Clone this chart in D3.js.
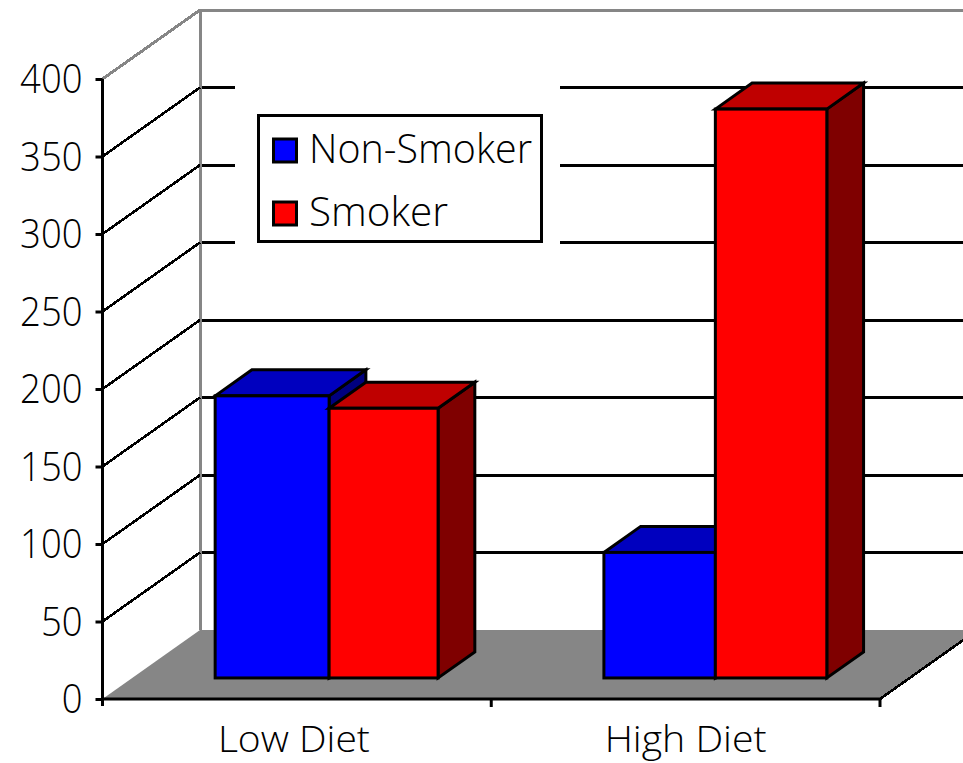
<!DOCTYPE html>
<html>
<head>
<meta charset="utf-8">
<script src="https://cdn.jsdelivr.net/npm/d3@7"></script>
<style>
  html, body { margin: 0; padding: 0; background: #fff; overflow: hidden; }
  svg { display: block; }
  text { font-family: "Open Sans", "Liberation Sans", Arial, sans-serif; font-weight: 300; fill: #000; }
</style>
</head>
<body>
<svg id="chart" width="963" height="763"></svg>
<script>
// Chart data
const categories = ["Low Diet", "High Diet"];
const seriesNames = ["Non-Smoker", "Smoker"];
const nonSmoker = [182, 81];
const smoker = [174, 367];
const yTicks = [0, 50, 100, 150, 200, 250, 300, 350, 400];

// Palette: front, top and side faces of each series
const faces = {
  "Non-Smoker": { front: "#0000ff", top: "#0000bf", side: "#00007f" },
  "Smoker": { front: "#ff0000", top: "#bf0000", side: "#7f0000" }
};
const wallGray = "#868686";
const floorGray = "#868686";

const width = 963, height = 763;
const svg = d3.select("#chart");

// Front plane of the box
const left = 102.5, right = 880, base = 699, topY = 79;
// Offset from the front plane to the back wall
const depthX = 97.5, depthY = 69;
// Bars stand part-way into the box and have their own depth
const barInset = 0.305, barDepth = 0.377;

const y = d3.scaleLinear().domain([0, 400]).range([base, topY]);
const x = d3.scaleBand().domain(categories).range([left, right]).padding(0);
const inner = d3.scaleBand().domain(seriesNames).range([0, x.bandwidth()]).paddingOuter(0.744).paddingInner(0);

const backX = left + depthX;
const backY = v => y(v) - depthY;

// Floor
svg.append("polygon")
  .attr("points", [[left, base], [backX, base - depthY], [right + depthX, base - depthY], [right, base]].join(" "))
  .attr("fill", floorGray);

// Back wall outline
svg.append("path")
  .attr("d", d3.line()([[left, y(400)], [backX, backY(400)], [right + depthX, backY(400)]]))
  .attr("fill", "none").attr("stroke", wallGray).attr("stroke-width", 3)
  .attr("shape-rendering", "crispEdges");
svg.append("line")
  .attr("x1", backX).attr("x2", backX).attr("y1", backY(400)).attr("y2", backY(0))
  .attr("stroke", wallGray).attr("stroke-width", 3).attr("shape-rendering", "crispEdges");

// Gridlines across the wall and along the side
const gridValues = yTicks.filter(v => v > 0 && v < 400);
svg.append("g").selectAll("line.back").data(gridValues).join("line")
  .attr("x1", backX + 1.5).attr("x2", width)
  .attr("y1", backY).attr("y2", backY)
  .attr("stroke", "#000").attr("stroke-width", 3).attr("shape-rendering", "crispEdges");
svg.append("g").selectAll("line.side").data(gridValues).join("line")
  .attr("x1", left).attr("x2", backX)
  .attr("y1", y).attr("y2", backY)
  .attr("stroke", "#000").attr("stroke-width", 2.6).attr("shape-rendering", "crispEdges");

// Right edge of the floor
svg.append("line")
  .attr("x1", right).attr("x2", right + depthX)
  .attr("y1", base).attr("y2", base - depthY)
  .attr("stroke", "#000").attr("stroke-width", 2.6).attr("shape-rendering", "crispEdges");

// The legend panel clears the wall behind it
svg.append("rect")
  .attr("x", 235).attr("y", 60).attr("width", 325).attr("height", 195).attr("fill", "#fff");

// Bars
const bars = categories.flatMap((c, i) => [
  { category: c, series: seriesNames[0], value: nonSmoker[i] },
  { category: c, series: seriesNames[1], value: smoker[i] }
]);
const barBaseY = base - depthY * barInset;
const barOffsetX = depthX * barInset;
const dx = depthX * barDepth, dy = depthY * barDepth;
// Divider between the two bars of a cluster
const splitShift = d3.scaleOrdinal(categories, [2.5, 0]);

const barG = svg.append("g").selectAll("g").data(bars).join("g")
  .attr("stroke", "#000").attr("stroke-width", 3).attr("stroke-linejoin", "miter");

function barBox(d) {
  const isFirst = d.series === seriesNames[0];
  const start = x(d.category) + barOffsetX + inner(d.series);
  const x0 = isFirst ? start : start + splitShift(d.category);
  const x1 = isFirst ? start + inner.bandwidth() + splitShift(d.category) : start + inner.bandwidth();
  const y1 = barBaseY;
  const y0 = y1 - (y(0) - y(d.value));
  return { x0, x1, y0, y1 };
}
barG.append("polygon")
  .attr("fill", d => faces[d.series].side)
  .attr("points", d => {
    const b = barBox(d);
    return [[b.x1, b.y0], [b.x1 + dx, b.y0 - dy], [b.x1 + dx, b.y1 - dy], [b.x1, b.y1]].join(" ");
  });
barG.append("polygon")
  .attr("fill", d => faces[d.series].top)
  .attr("points", d => {
    const b = barBox(d);
    return [[b.x0, b.y0], [b.x0 + dx, b.y0 - dy], [b.x1 + dx, b.y0 - dy], [b.x1, b.y0]].join(" ");
  });
barG.append("rect")
  .attr("fill", d => faces[d.series].front)
  .attr("x", d => barBox(d).x0)
  .attr("y", d => barBox(d).y0)
  .attr("width", d => barBox(d).x1 - barBox(d).x0)
  .attr("height", d => barBox(d).y1 - barBox(d).y0);

// Value axis
const yAxis = svg.append("g")
  .attr("transform", `translate(${left},0)`)
  .call(d3.axisLeft(y).tickValues(yTicks).tickSize(7).tickPadding(13));
yAxis.select(".domain").attr("stroke", "#000").attr("stroke-width", 3).attr("d", `M0,${y(400)}V${base + 7}`);
yAxis.selectAll(".tick line").attr("stroke", "#000").attr("stroke-width", 3);
yAxis.selectAll(".tick text")
  .attr("font-size", 41).attr("dy", "0.34em").attr("fill", "#000")
  .style("font-family", '"Open Sans", "Liberation Sans", Arial, sans-serif')
  .style("font-weight", 300)
  .each(function (d) { d3.select(this).attr("textLength", String(d).length * 20.8).attr("lengthAdjust", "spacingAndGlyphs"); });

// Category axis: baseline, boundary ticks and centred labels
svg.append("line")
  .attr("x1", left).attr("x2", right).attr("y1", base).attr("y2", base)
  .attr("stroke", "#000").attr("stroke-width", 3);
const boundaries = [...categories.map(c => x(c)).slice(1), right];
svg.append("g").selectAll("line").data(boundaries).join("line")
  .attr("x1", d => d).attr("x2", d => d).attr("y1", base).attr("y2", base + 8)
  .attr("stroke", "#000").attr("stroke-width", 3);
const labelLengths = d3.scaleOrdinal(categories, [152, 162]);
const labelShift = d3.scaleOrdinal(categories, [-3, 0]);
svg.append("g").selectAll("text").data(categories).join("text")
  .attr("x", d => x(d) + x.bandwidth() / 2 + labelShift(d))
  .attr("y", 751.5)
  .attr("text-anchor", "middle")
  .attr("font-size", 37.5)
  .attr("textLength", labelLengths)
  .attr("lengthAdjust", "spacingAndGlyphs")
  .text(d => d);

// Legend
const legend = svg.append("g");
legend.append("rect")
  .attr("x", 258.5).attr("y", 115.5).attr("width", 283).attr("height", 126)
  .attr("fill", "#fff").attr("stroke", "#000").attr("stroke-width", 3);
const legendY = d3.scalePoint().domain(seriesNames).range([150, 213]);
const legendLengths = d3.scaleOrdinal(seriesNames, [223, 139]);
const rows = legend.selectAll("g").data(seriesNames).join("g")
  .attr("transform", d => `translate(0,${legendY(d)})`);
rows.append("rect")
  .attr("x", 273.5).attr("y", -11).attr("width", 23).attr("height", 23)
  .attr("fill", d => faces[d].front).attr("stroke", "#000").attr("stroke-width", 3);
rows.append("text")
  .attr("x", 309).attr("y", 13)
  .attr("font-size", 41)
  .attr("textLength", legendLengths)
  .attr("lengthAdjust", "spacingAndGlyphs")
  .text(d => d);
</script>
</body>
</html>
